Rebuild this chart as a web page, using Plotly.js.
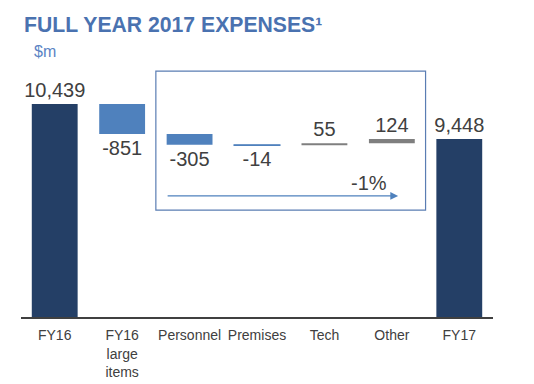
<!DOCTYPE html>
<html>
<head>
<meta charset="utf-8">
<script src="https://cdn.plot.ly/plotly-3.0.1.min.js"></script>
<style>html,body{margin:0;padding:0;background:#fff;}#chart{width:534px;height:384px;}</style>
</head>
<body>
<div id="chart"></div>
<script>
var categories = ['FY16', 'FY16<br>large<br>items', 'Personnel', 'Premises', 'Tech', 'Other', 'FY17'];
var values = [10439, -851, -305, -14, 55, 124, 9448];
var measures = ['total', 'relative', 'relative', 'relative', 'relative', 'relative', 'total'];
var valueLabels = ['10,439', '-851', '-305', '-14', '55', '124', '9,448'];
var changeLabel = '-1%';

var NAVY = '#243F66', BLUE = '#4F81BD', GREY = '#7F7F7F';
var barColors = [NAVY, BLUE, BLUE, BLUE, GREY, GREY, NAVY];
var edgeWidths = [0, 0, 0, 1.2, 0, 0, 0];

var bases = [], running = 0;
for (var i = 0; i < values.length; i++) {
  if (measures[i] === 'total') { bases.push(0); running = values[i]; }
  else { bases.push(running); running += values[i]; }
}

var trace = {
  type: 'bar',
  x: categories,
  y: values,
  base: bases,
  marker: { color: barColors, line: { color: barColors, width: edgeWidths } },
  text: valueLabels,
  textposition: 'outside',
  textfont: { family: 'Liberation Sans, Arial, sans-serif', size: 20, color: '#404040' },
  constraintext: 'none',
  cliponaxis: false,
  hoverinfo: 'none'
};

var layout = {
  width: 534, height: 384,
  margin: { l: 21, r: 41, t: 60, b: 67 },
  paper_bgcolor: '#fff', plot_bgcolor: '#fff',
  showlegend: false,
  bargap: 0.32,
  font: { family: 'Liberation Sans, Arial, sans-serif', color: '#404040' },
  xaxis: {
    type: 'category',
    showline: true, linecolor: '#404040', linewidth: 1.5,
    ticks: 'outside', ticklen: 5, tickcolor: 'rgba(0,0,0,0)',
    tickfont: { size: 14, color: '#404040' },
    showgrid: false, zeroline: false, fixedrange: true
  },
  yaxis: {
    range: [4408, 11684],
    visible: false, showgrid: false, zeroline: false, fixedrange: true
  },
  shapes: [{
    type: 'rect', xref: 'x', yref: 'paper',
    x0: 1.5, x1: 5.5, y0: 0.416, y1: 0.957,
    line: { color: '#5A7DB3', width: 1.2 }, fillcolor: 'rgba(0,0,0,0)'
  }],
  annotations: [
    {
      text: '<b>FULL YEAR 2017 EXPENSES¹</b>', xref: 'paper', yref: 'paper',
      x: 0.002, y: 1.14, xanchor: 'left', yanchor: 'middle',
      showarrow: false, font: { size: 21.2, color: '#4A72B0' }
    },
    {
      text: '$m', xref: 'paper', yref: 'paper', x: 0.051, y: 1.035,
      xanchor: 'center', yanchor: 'middle',
      showarrow: false, font: { size: 16, color: '#5B84C4' }
    },
    {
      text: '', xref: 'paper', yref: 'paper', x: 0.799, y: 0.471,
      showarrow: true, ax: -232, ay: 0, arrowhead: 2, arrowsize: 1.3,
      arrowwidth: 1.2, arrowcolor: '#4F81BD'
    },
    {
      text: changeLabel, xref: 'paper', yref: 'paper', x: 0.695, y: 0.52,
      xanchor: 'left', yanchor: 'middle',
      showarrow: false, font: { size: 20, color: '#404040' }
    }
  ]
};

Plotly.newPlot('chart', [trace], layout, { displayModeBar: false, staticPlot: true });
</script>
</body>
</html>
